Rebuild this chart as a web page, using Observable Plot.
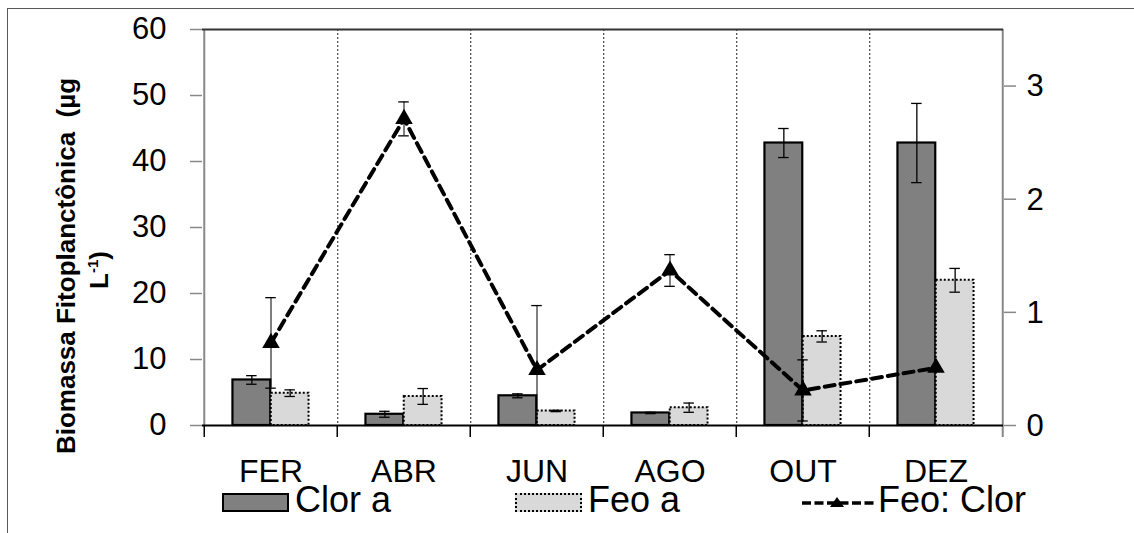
<!DOCTYPE html>
<html>
<head>
<meta charset="utf-8">
<script src="https://cdn.jsdelivr.net/npm/d3@7"></script>
<script src="https://cdn.jsdelivr.net/npm/@observablehq/plot@0.6"></script>
<style>
  html, body { margin: 0; padding: 0; background: #fff; overflow: hidden; }
  #wrap { position: relative; width: 1134px; height: 533px; font-family: "Liberation Sans", Arial, sans-serif; }
  #frame { position: absolute; left: 7px; top: 8px; width: 1300px; height: 700px; border: 1.5px solid #595959; box-sizing: border-box; }
  #chart { position: absolute; left: 0; top: 0; width: 1134px; }
  .sw { position: absolute; top: 493px; width: 67px; height: 19px; box-sizing: border-box; }
  .lt { position: absolute; top: 487px; font-size: 36px; line-height: 26px; color: #000; white-space: nowrap; }
</style>
</head>
<body>
<div id="wrap">
  <div id="frame"></div>
  <div id="chart"></div>
  <div id="legend">
    <div class="sw" style="left:222px; background:#808080; border:2px solid #000;"></div>
    <div class="lt" style="left:295px;">Clor a</div>
    <div class="sw" style="left:515px; background:#d9d9d9; border:2px dotted #000;"></div>
    <div class="lt" style="left:588px;">Feo a</div>
    <svg style="position:absolute; left:800px; top:492px;" width="80" height="22">
      <line x1="2" x2="76" y1="11" y2="11" stroke="#000" stroke-width="3.5" stroke-dasharray="9,3.5"></line>
      <path d="M37,5 L44,15 L30,15 Z" fill="#000"></path>
    </svg>
    <div class="lt" style="left:878px;">Feo: Clor</div>
  </div>
</div>
<script>
// Sampling months
const months = ["FER", "ABR", "JUN", "AGO", "OUT", "DEZ"];
// Chlorophyll a (µg L-1) and its deviation
const clorA   = [6.9, 1.7, 4.5, 1.9, 42.8, 42.8];
const clorASd = [0.65, 0.45, 0.3, 0.1, 2.2, 6.0];
// Pheophytin a (µg L-1) and its deviation
const feoA   = [4.9, 4.4, 2.2, 2.7, 13.5, 22.0];
const feoASd = [0.5, 1.2, 0.1, 0.7, 0.85, 1.8];
// Pheophytin : chlorophyll ratio (right axis) and its deviation
const feoClor   = [0.73, 2.71, 0.49, 1.37, 0.31, 0.51];
const feoClorSd = [0.40, 0.15, 0.57, 0.14, 0.27, 0];
// Axis ticks
const leftTicks = [0, 10, 20, 30, 40, 50, 60];
const rightTicks = [0, 1, 2, 3];
const leftMax = 60;
const rightMax = 3.5;

const W = 1134, H = 533;
const mL = 202, mR = 131, mT = 29, mB = 108;
const band = (W - mL - mR) / months.length;
const barW = 38.3;
const capW = 11;
const k = leftMax / rightMax; // right-axis units -> left-axis units

const rows = months.map((m, i) => ({
  month: m,
  clor: clorA[i], clorLo: clorA[i] - clorASd[i], clorHi: clorA[i] + clorASd[i],
  feo: feoA[i], feoLo: feoA[i] - feoASd[i], feoHi: feoA[i] + feoASd[i],
  ratio: feoClor[i] * k,
  ratioLo: Math.max(0, feoClor[i] - feoClorSd[i]) * k,
  ratioHi: (feoClor[i] + feoClorSd[i]) * k,
  hasRatioErr: feoClorSd[i] > 0
}));
const ratioErrRows = rows.filter(d => d.hasRatioErr);

const half = band / 2;
const cap = { insetLeft: half - capW / 2, insetRight: half - capW / 2, stroke: "#000", strokeWidth: 1.3 };
const chart = Plot.plot({
  width: W, height: H,
  marginLeft: mL, marginRight: mR, marginTop: mT, marginBottom: mB,
  style: { fontFamily: '"Liberation Sans", Arial, sans-serif', fontSize: "31px", color: "#000", background: "transparent", overflow: "visible" },
  x: { type: "band", domain: months, padding: 0, label: null },
  y: { domain: [0, leftMax], label: null },
  marks: [
    // dotted month separators
    Plot.ruleX(months.slice(0, -1), { x: d => d, dx: half, stroke: "#222", strokeWidth: 1, strokeDasharray: "2,2" }),
    // bars: chlorophyll a on the left half, pheophytin a on the right half
    Plot.barY(rows, { x: "month", y: "clor", fill: "#808080", stroke: "#000", strokeWidth: 2.2,
      insetLeft: half - barW, insetRight: half }),
    Plot.barY(rows, { x: "month", y: "feo", fill: "#d9d9d9", stroke: "#000", strokeWidth: 2, strokeDasharray: "2,2",
      insetLeft: half, insetRight: half - barW }),
    // error bars of the bars
    Plot.ruleX(rows, { x: "month", y1: "clorLo", y2: "clorHi", dx: -barW / 2, stroke: "#000", strokeWidth: 1.3 }),
    Plot.tickY(rows, { x: "month", y: "clorLo", dx: -barW / 2, ...cap }),
    Plot.tickY(rows, { x: "month", y: "clorHi", dx: -barW / 2, ...cap }),
    Plot.ruleX(rows, { x: "month", y1: "feoLo", y2: "feoHi", dx: barW / 2, stroke: "#000", strokeWidth: 1.3 }),
    Plot.tickY(rows, { x: "month", y: "feoLo", dx: barW / 2, ...cap }),
    Plot.tickY(rows, { x: "month", y: "feoHi", dx: barW / 2, ...cap }),
    // frame: left and right axes (grey), top and baseline (black)
    Plot.ruleX([months[0]], { x: d => d, dx: -half, stroke: "#888", strokeWidth: 2 }),
    Plot.ruleX([months[months.length - 1]], { x: d => d, dx: half, y1: 0, y2: leftMax, insetTop: 12, stroke: "#888", strokeWidth: 2 }),
    Plot.ruleY([leftMax], { stroke: "#333", strokeWidth: 2 }),
    Plot.ruleY([0], { stroke: "#000", strokeWidth: 2 }),
    // category ticks below the baseline
    Plot.ruleX(months, { x: d => d, dx: -half, y1: 0, y2: 0, insetTop: 12, stroke: "#000", strokeWidth: 1.5 }),
    // left axis
    Plot.axisY(leftTicks, { anchor: "left", tickSize: 12, tickPadding: 24, stroke: "#888", strokeWidth: 1.5, fill: "#000" }),
    // right axis ticks (labels are added below)
    Plot.axisY(rightTicks.map(v => v * k), { anchor: "right", tickSize: 12, tickFormat: () => "", stroke: "#888", strokeWidth: 1.5 }),
    // month labels
    Plot.axisX({ tickSize: 0, tickPadding: 34, fontSize: 32, fill: "#000" }),
    // ratio series on the right axis
    Plot.line(rows, { x: "month", y: "ratio", stroke: "#000", strokeWidth: 4, strokeDasharray: "10,6" }),
    Plot.ruleX(ratioErrRows, { x: "month", y1: "ratioLo", y2: "ratioHi", stroke: "#000", strokeWidth: 1 }),
    Plot.tickY(ratioErrRows, { x: "month", y: "ratioLo", ...cap }),
    Plot.tickY(ratioErrRows, { x: "month", y: "ratioHi", ...cap }),
    Plot.dot(rows, { x: "month", y: "ratio", symbol: "triangle", r: 6.5, fill: "#000", stroke: "none" })
  ]
});

const svg = d3.select(chart);
const yScale = chart.scale("y");

// right-axis labels, placed with the chart's own y scale
svg.append("g")
  .attr("font-family", '"Liberation Sans", Arial, sans-serif')
  .attr("font-size", 31)
  .attr("fill", "#000")
  .selectAll("text")
  .data(rightTicks)
  .join("text")
  .attr("x", W - mR + 32)
  .attr("y", d => yScale.apply(d * k))
  .attr("dy", "0.35em")
  .text(d => d);

// y-axis title on two rotated lines
const title = svg.append("g")
  .attr("font-family", '"Liberation Sans", Arial, sans-serif')
  .attr("font-weight", "bold")
  .attr("font-size", 26)
  .attr("fill", "#000")
  .attr("text-anchor", "middle");
title.append("text")
  .attr("transform", "translate(75,266) rotate(-90)")
  .style("white-space", "pre")
  .text("Biomassa Fitoplanctônica  (µg");
const t2 = title.append("text").attr("transform", "translate(108,270) rotate(-90)");
t2.append("tspan").text("L");
t2.append("tspan").attr("font-size", 15).attr("dy", -10).text("-1");
t2.append("tspan").attr("dy", 10).text(")");

document.getElementById("chart").appendChild(chart);
</script>
</body>
</html>
